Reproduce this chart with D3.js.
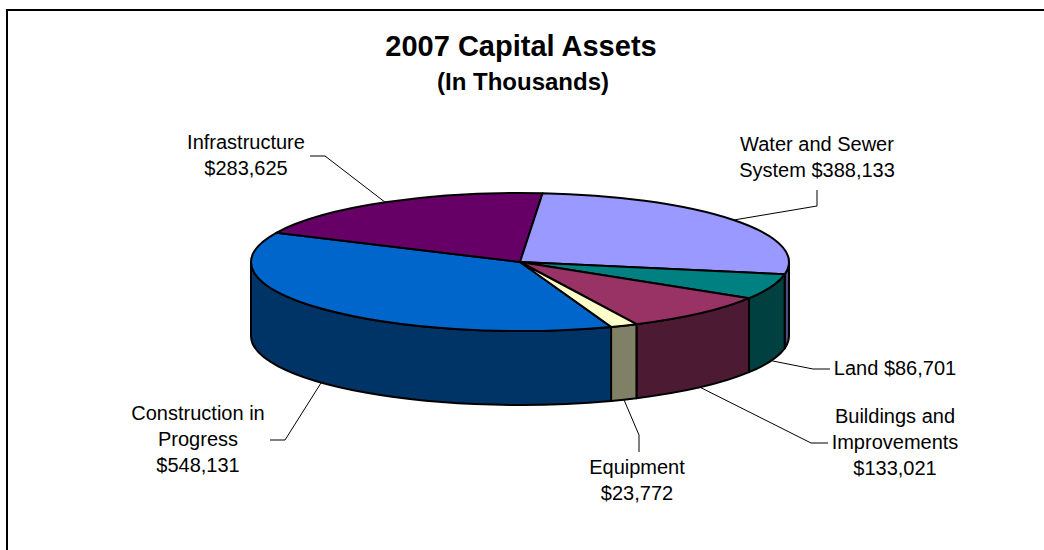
<!DOCTYPE html>
<html>
<head>
<meta charset="utf-8">
<script src="https://cdn.jsdelivr.net/npm/d3@7"></script>
<style>
  html, body { margin: 0; padding: 0; background: #ffffff; }
  svg { display: block; }
  text { font-family: "Liberation Sans", Arial, sans-serif; fill: #000; }
</style>
</head>
<body>
<svg id="chart" width="1044" height="550"></svg>
<script>
// Capital asset categories, in the order they run clockwise round the pie
const categories = ["Construction in Progress", "Infrastructure", "Water and Sewer System", "Land", "Buildings and Improvements", "Equipment"];
const values = [548131, 283625, 388133, 86701, 133021, 23772];
const topColors = ["#0066CC", "#660066", "#9999FF", "#008080", "#993366", "#FFFFCC"];
// label text lines; the value is appended to the last line or set on its own line
const labelLines = [["Construction in", "Progress"], ["Infrastructure"], ["Water and Sewer", "System"], ["Land"], ["Buildings and", "Improvements"], ["Equipment"]];
const valueInline = [false, false, true, true, false, false];

const titleText = "2007 Capital Assets";
const subtitleText = "(In Thousands)";

// ---- layout ----
const W = 1044, H = 550;
const cx = 520, cy = 262;       // centre of the top face
const rx = 269, ry = 69;        // ellipse radii of the tilted disc
const depth = 74;               // thickness of the disc
const startDeg = 160.2;         // where the first slice begins (clockwise from 12 o'clock)
const lineGap = 26;

// label placement: text centre x, first baseline y, leader elbow and end
const labelLayout = [
  { x: 198, y: 420, elbow: [285, 440], end: [270, 440] },
  { x: 246, y: 149, elbow: [325, 156], end: [310, 156] },
  { x: 817, y: 151, elbow: [817, 206], end: [817, 190] },
  { x: 895, y: 375, elbow: [813, 369], end: [830, 369] },
  { x: 895, y: 423, elbow: [811, 443], end: [828, 443] },
  { x: 637, y: 474, elbow: [639, 435], end: [639, 452] }
];

const fmt = d3.format("$,");
const data = categories.map((c, i) => ({ name: c, value: values[i], color: topColors[i], i }));

const svg = d3.select("#chart");

// chart frame
svg.append("rect")
  .attr("x", 7).attr("y", 10)
  .attr("width", W + 40).attr("height", H + 40)
  .attr("fill", "#fff")
  .attr("stroke", "#000").attr("stroke-width", 2);

// titles
svg.append("text").attr("x", 521).attr("y", 56)
  .attr("text-anchor", "middle")
  .style("font-weight", "bold").style("font-size", "29px")
  .text(titleText);
svg.append("text").attr("x", 523).attr("y", 90)
  .attr("text-anchor", "middle")
  .style("font-weight", "bold").style("font-size", "24px")
  .text(subtitleText);

const start = startDeg * Math.PI / 180;
const pie = d3.pie().sort(null).value(d => d.value)
  .startAngle(start).endAngle(start + 2 * Math.PI);
const arcs = pie(data);

// point on the disc rim at angle a (clockwise from 12 o'clock), dropped by dy
function rim(a, dy = 0) {
  return [cx + rx * Math.sin(a), cy - ry * Math.cos(a) + dy];
}

function topPath(a0, a1) {
  const p0 = rim(a0), p1 = rim(a1);
  const large = (a1 - a0) > Math.PI ? 1 : 0;
  return `M${cx},${cy}L${p0[0]},${p0[1]}A${rx},${ry} 0 ${large} 1 ${p1[0]},${p1[1]}Z`;
}

function sidePath(s, e) {
  const p0 = rim(s), p1 = rim(e), q1 = rim(e, depth), q0 = rim(s, depth);
  const large = (e - s) > Math.PI ? 1 : 0;
  return `M${p0[0]},${p0[1]}A${rx},${ry} 0 ${large} 1 ${p1[0]},${p1[1]}` +
         `L${q1[0]},${q1[1]}A${rx},${ry} 0 ${large} 0 ${q0[0]},${q0[1]}Z`;
}

// the front half of the rim is where cos(a) < 0
function frontParts(a0, a1) {
  const parts = [];
  for (let k = -1; k <= 2; k++) {
    const lo = Math.PI / 2 + 2 * Math.PI * k, hi = 3 * Math.PI / 2 + 2 * Math.PI * k;
    const s = Math.max(a0, lo), e = Math.min(a1, hi);
    if (e > s + 1e-6) parts.push([s, e]);
  }
  return parts;
}

// side walls are the top colour at half brightness
const darker = c => { const r = d3.rgb(c); return d3.rgb(r.r * 0.5, r.g * 0.5, r.b * 0.5); };

const pieG = svg.append("g");

// side walls
const sides = [];
arcs.forEach(a => frontParts(a.startAngle, a.endAngle).forEach(p => sides.push({ a, p })));
pieG.selectAll("path.side").data(sides).join("path")
  .attr("class", "side")
  .attr("d", d => sidePath(d.p[0], d.p[1]))
  .attr("fill", d => darker(d.a.data.color))
  .attr("stroke", "#000").attr("stroke-width", 2).attr("stroke-linejoin", "round");

// top faces
pieG.selectAll("path.top").data(arcs).join("path")
  .attr("class", "top")
  .attr("d", d => topPath(d.startAngle, d.endAngle))
  .attr("fill", d => d.data.color)
  .attr("stroke", "#000").attr("stroke-width", 2).attr("stroke-linejoin", "round");

// leader lines and labels
const labG = svg.append("g");
arcs.forEach((a, i) => {
  const L = labelLayout[i];
  const mid = (a.startAngle + a.endAngle) / 2;
  const front = Math.cos(mid) < 0;
  const anchor = rim(mid, front ? depth : 0);
  labG.append("polyline")
    .attr("points", [anchor, L.elbow, L.end].map(p => p.join(",")).join(" "))
    .attr("fill", "none").attr("stroke", "#000").attr("stroke-width", 1);

  const lines = labelLines[i].slice();
  const v = fmt(a.data.value);
  if (valueInline[i]) lines[lines.length - 1] += " " + v; else lines.push(v);
  const t = labG.append("text")
    .attr("text-anchor", "middle")
    .style("font-size", "20px");
  lines.forEach((ln, j) => t.append("tspan").attr("x", L.x).attr("y", L.y + j * lineGap).text(ln));
});
</script>
</body>
</html>
